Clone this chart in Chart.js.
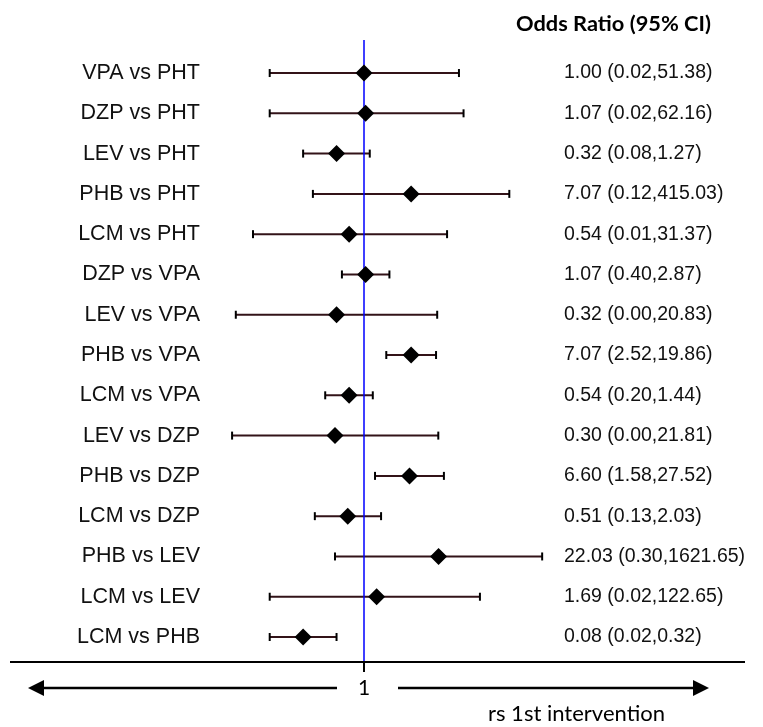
<!DOCTYPE html>
<html>
<head>
<meta charset="utf-8">
<script src="https://cdn.jsdelivr.net/npm/chart.js@4"></script>
<style>
  html, body { margin: 0; padding: 0; background: #fff; }
  #wrap { width: 763px; height: 727px; }
</style>
</head>
<body>
<div id="wrap"><canvas id="myChart" width="763" height="727"></canvas></div>
<script>
const comparisons = [
  "VPA vs PHT", "DZP vs PHT", "LEV vs PHT", "PHB vs PHT", "LCM vs PHT",
  "DZP vs VPA", "LEV vs VPA", "PHB vs VPA", "LCM vs VPA", "LEV vs DZP",
  "PHB vs DZP", "LCM vs DZP", "PHB vs LEV", "LCM vs LEV", "LCM vs PHB"
];
const oddsRatio = [1.00, 1.07, 0.32, 7.07, 0.54, 1.07, 0.32, 7.07, 0.54, 0.30, 6.60, 0.51, 22.03, 1.69, 0.08];
const lowerCI = [0.02, 0.02, 0.08, 0.12, 0.01, 0.40, 0.0049, 2.52, 0.20, 0.0042, 1.58, 0.13, 0.30, 0.02, 0.02];
const upperCI = [51.38, 62.16, 1.27, 415.03, 31.37, 2.87, 20.83, 19.86, 1.44, 21.81, 27.52, 2.03, 1621.65, 122.65, 0.32];

const headerText = "Odds Ratio (95% CI)";
const footText = "rs 1st intervention";

const orText = oddsRatio.map((v, i) =>
  v.toFixed(2) + " (" + lowerCI[i].toFixed(2) + "," + upperCI[i].toFixed(2) + ")");

const yMin = -0.82, yMax = 14.62;
const ciColor = "#321318";

// one dataset per confidence interval, caps drawn as rotated line points
const ciSets = comparisons.map((c, i) => ({
  type: "line",
  data: [{ x: lowerCI[i], y: i }, { x: upperCI[i], y: i }],
  borderColor: ciColor,
  borderWidth: 2,
  pointStyle: "line",
  rotation: 90,
  pointRadius: 4,
  pointBorderColor: "#000",
  pointBorderWidth: 2,
  order: 3
}));

function fitText(ctx, text, x, y, width, weight, family) {
  ctx.font = weight + " 20px " + family;
  const size = 20 * width / ctx.measureText(text).width;
  ctx.font = weight + " " + size.toFixed(2) + "px " + family;
  ctx.textAlign = "left";
  ctx.textBaseline = "middle";
  ctx.fillText(text, x, y);
}

const decor = {
  id: "decor",
  afterDraw(chart) {
    const ctx = chart.ctx;
    const xs = chart.scales.x;
    const x1 = xs.getPixelForValue(1);
    const base = chart.chartArea.bottom;
    ctx.save();
    ctx.fillStyle = "#000";
    ctx.strokeStyle = "#000";

    // header
    fitText(ctx, headerText, 516, 24, 195, "bold", "Lato");

    // axis line and tick
    ctx.lineWidth = 2;
    ctx.beginPath();
    ctx.moveTo(10, base);
    ctx.lineTo(745, base);
    ctx.moveTo(x1, base);
    ctx.lineTo(x1, base + 10);
    ctx.stroke();

    // arrows
    const ay = 688;
    ctx.lineWidth = 2.5;
    ctx.beginPath();
    ctx.moveTo(x1 - 27, ay);
    ctx.lineTo(40, ay);
    ctx.moveTo(x1 + 34, ay);
    ctx.lineTo(696, ay);
    ctx.stroke();
    ctx.beginPath();
    ctx.moveTo(28, ay);
    ctx.lineTo(44, ay - 8);
    ctx.lineTo(44, ay + 8);
    ctx.closePath();
    ctx.moveTo(709, ay);
    ctx.lineTo(693, ay - 8);
    ctx.lineTo(693, ay + 8);
    ctx.closePath();
    ctx.fill();

    ctx.font = "21px Lato";
    ctx.textAlign = "center";
    ctx.textBaseline = "middle";
    ctx.fillText("1", x1, ay);

    fitText(ctx, footText, 488, 714, 177, "normal", "Lato");
    ctx.restore();
  }
};

const ctx = document.getElementById("myChart").getContext("2d");
const myChart = new Chart(ctx, {
  type: "scatter",
  data: {
    datasets: [
      {
        type: "scatter",
        data: oddsRatio.map((v, i) => ({ x: v, y: i })),
        pointStyle: "rectRot",
        pointRadius: 8.5,
        backgroundColor: "#000",
        borderColor: "#000",
        borderWidth: 0,
        order: 1
      },
      {
        type: "line",
        data: [{ x: 1, y: yMin }, { x: 1, y: yMax }],
        borderColor: "#0000ff",
        borderWidth: 1.5,
        pointRadius: 0,
        order: 2
      },
      ...ciSets
    ]
  },
  options: {
    responsive: false,
    animation: false,
    layout: { padding: { top: 40, bottom: 65, left: 0, right: 0 } },
    plugins: { legend: { display: false }, tooltip: { enabled: false } },
    scales: {
      x: {
        type: "logarithmic",
        min: 0.00168,
        max: 2762,
        display: false
      },
      y: {
        type: "linear",
        position: "left",
        reverse: true,
        min: yMin,
        max: yMax,
        grid: { display: false, drawTicks: false },
        border: { display: false },
        afterBuildTicks: (s) => { s.ticks = comparisons.map((c, i) => ({ value: i })); },
        afterFit: (s) => { s.width = 210; },
        ticks: {
          padding: 10,
          autoSkip: false,
          color: "#111",
          font: { family: "'Liberation Sans', Arial, sans-serif", size: 21.5 },
          callback: (v) => comparisons[v]
        }
      },
      y2: {
        type: "linear",
        position: "right",
        reverse: true,
        min: yMin,
        max: yMax,
        grid: { display: false, drawTicks: false },
        border: { display: false },
        afterBuildTicks: (s) => { s.ticks = orText.map((t, i) => ({ value: i })); },
        afterFit: (s) => { s.width = 208; },
        ticks: {
          padding: 9,
          autoSkip: false,
          color: "#111",
          font: { family: "'Liberation Sans', Arial, sans-serif", size: 19.5 },
          callback: (v) => orText[v]
        }
      }
    }
  },
  plugins: [decor]
});
</script>
</body>
</html>
